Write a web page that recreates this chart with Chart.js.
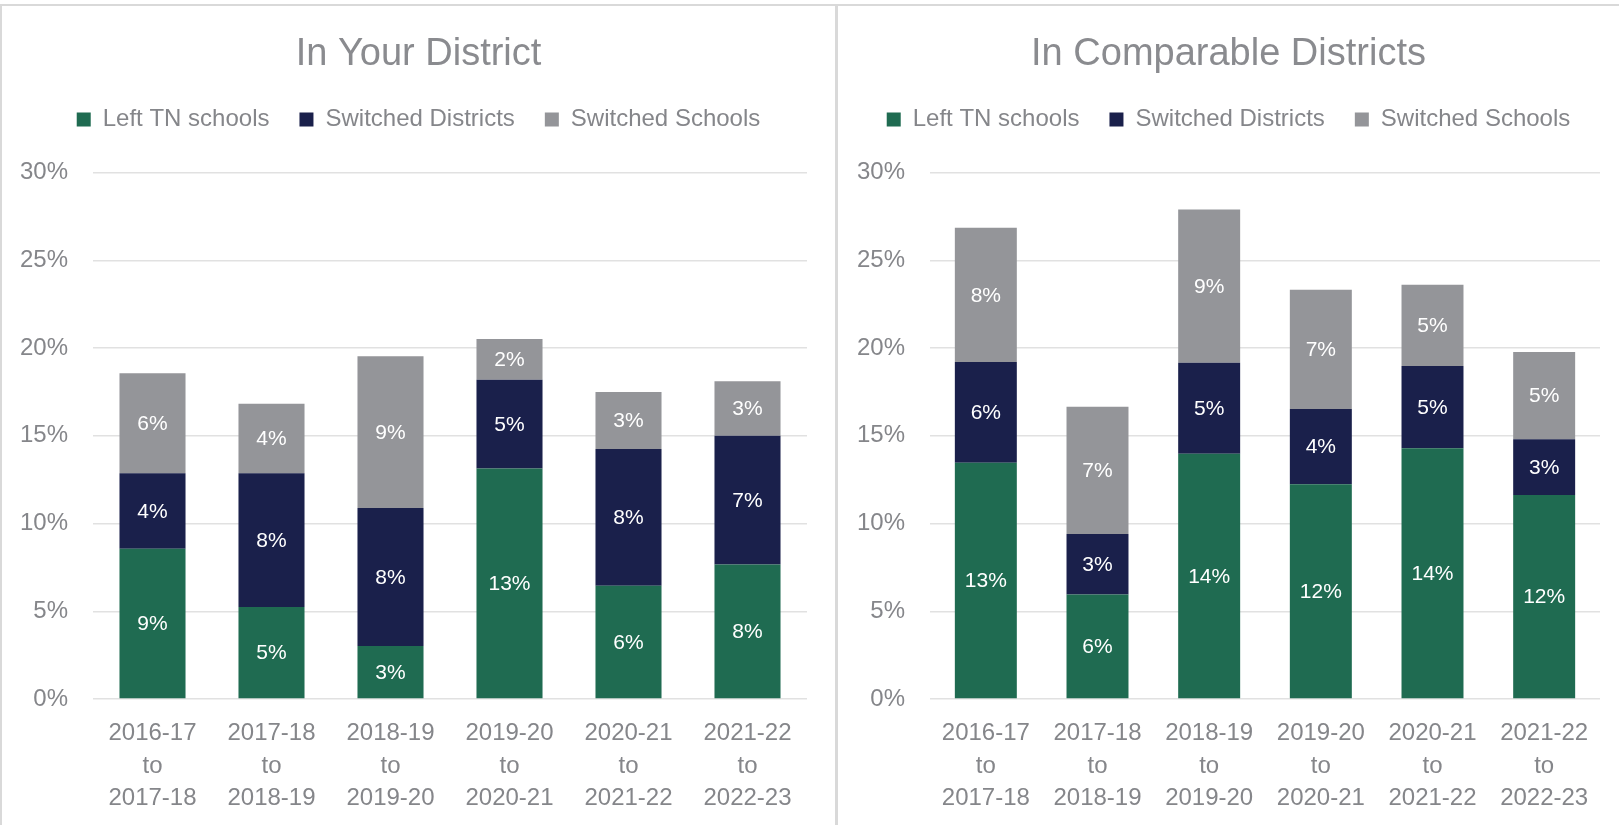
<!DOCTYPE html>
<html>
<head>
<meta charset="utf-8">
<script src="https://cdn.jsdelivr.net/npm/chart.js@4.4.1/dist/chart.umd.min.js"></script>
<style>
  html, body { margin: 0; padding: 0; background: #fff; }
  body { width: 1619px; height: 825px; position: relative; overflow: hidden; }
  .panel { position: absolute; top: 4px; height: 821px; box-sizing: border-box; border-top: 2px solid #d9d9d9; }
  #leftPanel { left: 0; width: 838px; border-left: 2px solid #d9d9d9; border-right: 3px solid #d9d9d9; }
  #rightPanel { left: 838px; width: 781px; }
  canvas { display: block; }
</style>
</head>
<body>
<div class="panel" id="leftPanel"><canvas id="yourChart" width="833" height="819"></canvas></div>
<div class="panel" id="rightPanel"><canvas id="compChart" width="781" height="819"></canvas></div>
<script>
const years = [
    ["2016-17", "to", "2017-18"],
    ["2017-18", "to", "2018-19"],
    ["2018-19", "to", "2019-20"],
    ["2019-20", "to", "2020-21"],
    ["2020-21", "to", "2021-22"],
    ["2021-22", "to", "2022-23"]
];
const seriesNames = ["Left TN schools", "Switched Districts", "Switched Schools"];
const seriesColors = ["#1f6b51", "#1a204b", "#949599"];

// In Your District (percent of teachers)
const yourLeft = [8.57, 5.24, 3.02, 13.14, 6.46, 7.67];
const yourDistricts = [4.29, 7.62, 7.86, 5.05, 7.79, 7.33];
const yourSchools = [5.71, 3.96, 8.65, 2.32, 3.24, 3.11];

// In Comparable Districts
const compLeft = [13.47, 5.96, 13.98, 12.24, 14.29, 11.63];
const compDistricts = [5.73, 3.45, 5.18, 4.29, 4.69, 3.17];
const compSchools = [7.66, 7.24, 8.74, 6.80, 4.63, 4.98];

const yMax = 30;
const yStep = 5;

const textGrey = "#85868a";
Chart.defaults.font.family = "'Liberation Sans', Arial, sans-serif";
Chart.defaults.color = textGrey;

// white value labels centred in every segment
const barLabels = {
    id: "barLabels",
    afterDatasetsDraw(chart) {
        const ctx = chart.ctx;
        ctx.save();
        ctx.font = "21px 'Liberation Sans', Arial, sans-serif";
        ctx.fillStyle = "#ffffff";
        ctx.textAlign = "center";
        ctx.textBaseline = "middle";
        chart.data.datasets.forEach((ds, i) => {
            chart.getDatasetMeta(i).data.forEach((bar, j) => {
                const p = bar.getProps(["x", "y", "base"], true);
                ctx.fillText(Math.round(ds.data[j]) + "%", p.x, (p.y + p.base) / 2 + 1);
            });
        });
        ctx.restore();
    }
};

// extra room between legend and plot
const legendSpace = {
    id: "legendSpace",
    beforeLayout(chart) {
        if (chart.legend && !chart.legend._patched) {
            const fit = chart.legend.fit;
            chart.legend.fit = function () { fit.call(this); this.height += 31; };
            chart.legend._patched = true;
        }
    }
};

function makeChart(id, title, left, districts, schools, yWidth, rightGap) {
    const ctx = document.getElementById(id).getContext("2d");
    return new Chart(ctx, {
        type: "bar",
        data: {
            labels: years,
            datasets: [
                { label: seriesNames[0], data: left, backgroundColor: seriesColors[0], borderWidth: 0 },
                { label: seriesNames[1], data: districts, backgroundColor: seriesColors[1], borderWidth: 0 },
                { label: seriesNames[2], data: schools, backgroundColor: seriesColors[2], borderWidth: 0 }
            ]
        },
        options: {
            responsive: false,
            animation: false,
            layout: { padding: 0 },
            datasets: { bar: { categoryPercentage: 1, barPercentage: 0.555 } },
            plugins: {
                title: {
                    display: true,
                    text: title,
                    color: "#8a8b8f",
                    font: { size: 38, weight: "normal" },
                    padding: { top: 26, bottom: 0 }
                },
                legend: {
                    position: "top",
                    labels: {
                        boxWidth: 14,
                        boxHeight: 14,
                        padding: 30,
                        color: textGrey,
                        font: { size: 24 }
                    }
                },
                tooltip: { enabled: false }
            },
            scales: {
                x: {
                    stacked: true,
                    grid: { display: false, drawTicks: false },
                    border: { display: false },
                    ticks: { padding: 18, color: textGrey, font: { size: 24, lineHeight: 1.36 }, maxRotation: 0 },
                    afterFit(s) { s.height = 126; }
                },
                y: {
                    stacked: true,
                    min: 0,
                    max: yMax,
                    grid: { color: "#e1e1e1", lineWidth: 1.5, drawTicks: false },
                    border: { display: false },
                    ticks: {
                        stepSize: yStep,
                        padding: 25,
                        color: textGrey,
                        font: { size: 24 },
                        callback: v => v + "%"
                    },
                    afterFit(s) { s.width = yWidth; }
                },
                // empty right-hand margin so titles stay centred on the panel
                gap: {
                    type: "linear",
                    position: "right",
                    grid: { display: false, drawTicks: false },
                    border: { display: false },
                    ticks: { display: false },
                    afterFit(s) { s.width = rightGap; }
                }
            }
        },
        plugins: [barLabels, legendSpace]
    });
}

makeChart("yourChart", "In Your District", yourLeft, yourDistricts, yourSchools, 91, 28);
makeChart("compChart", "In Comparable Districts", compLeft, compDistricts, compSchools, 92, 19);
</script>
</body>
</html>
